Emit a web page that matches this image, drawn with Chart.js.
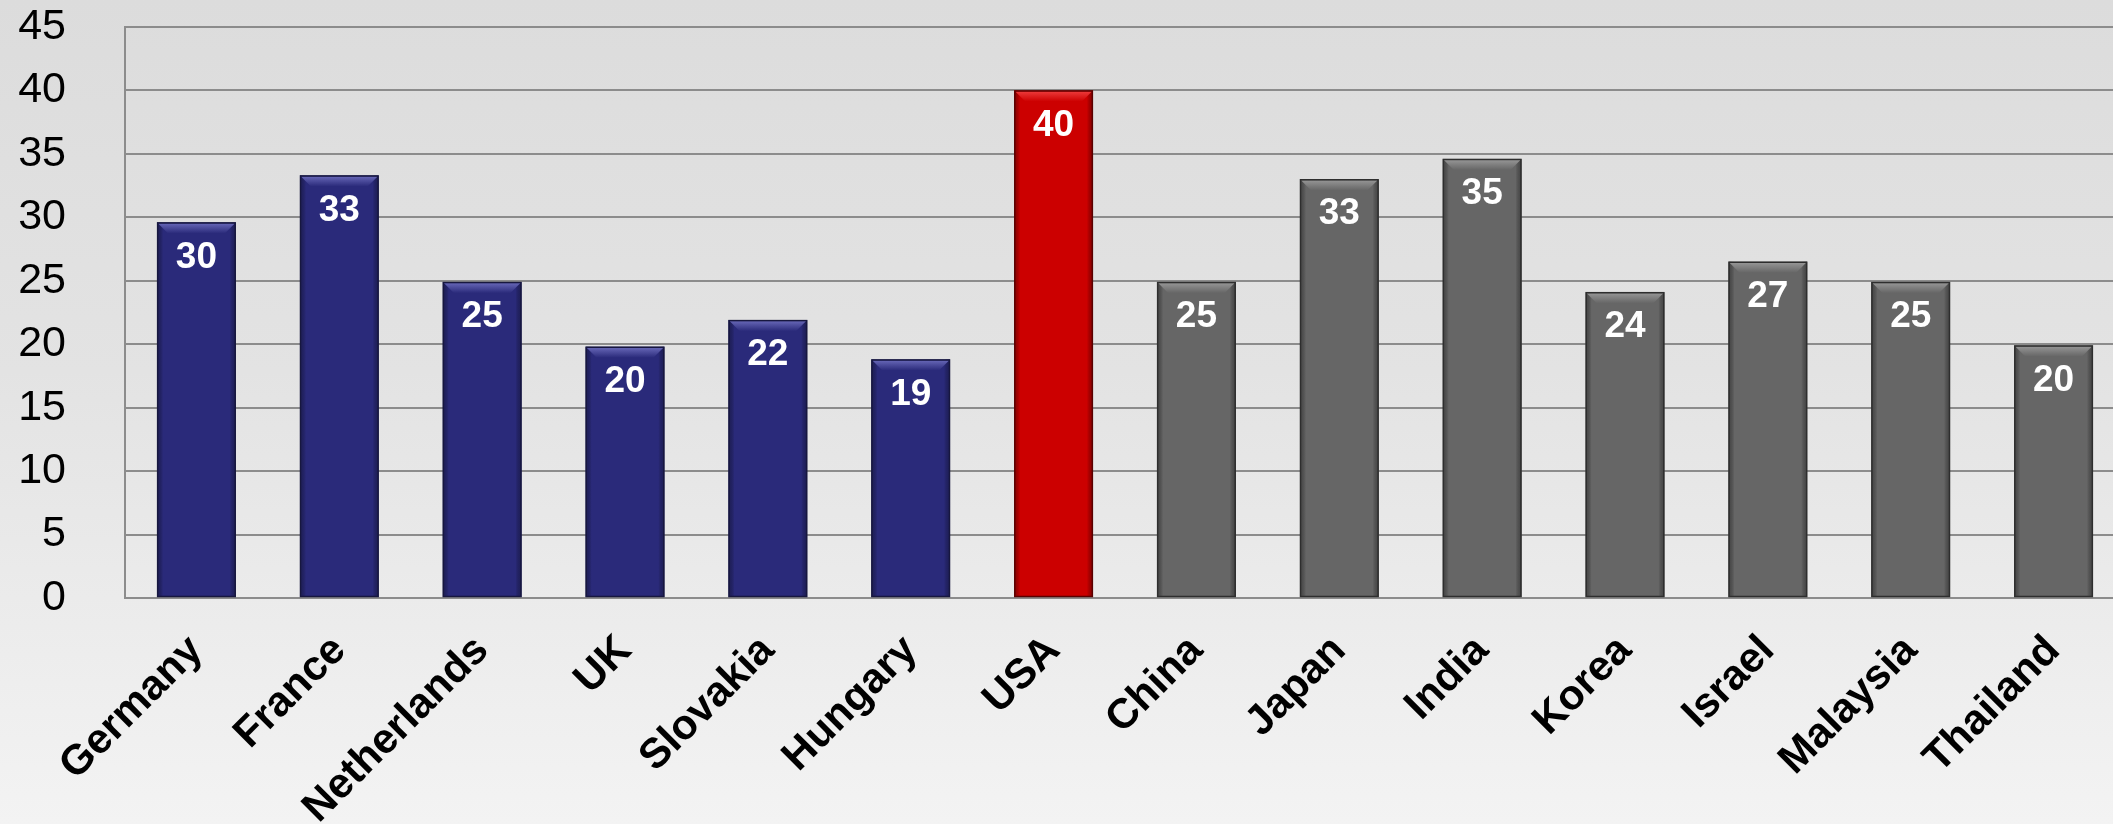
<!DOCTYPE html>
<html>
<head>
<meta charset="utf-8">
<script src="https://cdn.jsdelivr.net/npm/chart.js@4.4.1/dist/chart.umd.min.js"></script>
<style>
html, body { margin: 0; padding: 0; overflow: hidden; width: 2113px; height: 824px;
  background: linear-gradient(to bottom, #dcdcdc 0%, #e3e3e3 45%, #f3f3f3 100%); }
#wrap { position: absolute; left: 0; top: 0; width: 2125px; height: 824px; }
canvas { display: block; }
</style>
</head>
<body>
<div id="wrap"><canvas id="chart" width="2125" height="824"></canvas></div>
<script>
// ---- data ----
const categories = ['Germany', 'France', 'Netherlands', 'UK', 'Slovakia', 'Hungary', 'USA',
                    'China', 'Japan', 'India', 'Korea', 'Israel', 'Malaysia', 'Thailand'];
const values = [29.6, 33.3, 24.9, 19.8, 21.9, 18.8, 40.0, 24.9, 33.0, 34.6, 24.1, 26.5, 24.9, 19.9];
const europeCount = 6;   // first six categories (navy)
const usaIndex = 6;      // highlighted category (red)
const yMin = 0, yMax = 45, yStep = 5;

// ---- styles ----
const FONT = '"Liberation Sans", Arial, sans-serif';
const palette = {
  navy: { main: '#2a2a7a', light: '#6c6cbc', dark: '#17173f' },
  red:  { main: '#cc0000', light: '#f04040', dark: '#5a0000' },
  gray: { main: '#666666', light: '#9a9a9a', dark: '#2e2e2e' }
};
function groupOf(i) { return i < europeCount ? palette.navy : (i === usaIndex ? palette.red : palette.gray); }

// bevel + value labels drawn on the library's bar elements
const barDecor = {
  id: 'barDecor',
  afterDatasetsDraw(chart) {
    const ctx = chart.ctx;
    const meta = chart.getDatasetMeta(0);
    meta.data.forEach((bar, i) => {
      const p = bar.getProps(['x', 'y', 'base', 'width'], true);
      const c = groupOf(i);
      const x0 = p.x - p.width / 2, x1 = p.x + p.width / 2, top = p.y, bot = p.base;
      const b = 11;
      ctx.save();
      // side shading
      let g = ctx.createLinearGradient(x0, 0, x0 + 6, 0);
      g.addColorStop(0, c.dark); g.addColorStop(1, 'rgba(0,0,0,0)');
      ctx.fillStyle = g; ctx.globalAlpha = 0.55;
      ctx.fillRect(x0, top, 6, bot - top);
      g = ctx.createLinearGradient(x1 - 6, 0, x1, 0);
      g.addColorStop(0, 'rgba(0,0,0,0)'); g.addColorStop(1, c.dark);
      ctx.fillStyle = g;
      ctx.fillRect(x1 - 6, top, 6, bot - top);
      ctx.globalAlpha = 1;
      // top bevel
      g = ctx.createLinearGradient(0, top, 0, top + b);
      g.addColorStop(0, c.light); g.addColorStop(1, c.main);
      ctx.fillStyle = g;
      ctx.beginPath();
      ctx.moveTo(x0 + 1, top + 1); ctx.lineTo(x1 - 1, top + 1);
      ctx.lineTo(x1 - b, top + b); ctx.lineTo(x0 + b, top + b); ctx.closePath();
      ctx.fill();
      // outline
      ctx.strokeStyle = c.dark; ctx.lineWidth = 1.5;
      ctx.strokeRect(x0 + 0.5, top + 0.5, p.width - 1, bot - top - 1);
      // value label
      ctx.fillStyle = '#ffffff';
      ctx.font = 'bold 37px ' + FONT;
      ctx.textAlign = 'center';
      ctx.textBaseline = 'middle';
      ctx.fillText(String(Math.round(values[i])), p.x, top + 35);
      ctx.restore();
    });
  }
};

new Chart(document.getElementById('chart'), {
  type: 'bar',
  data: {
    labels: categories,
    datasets: [{
      data: values,
      backgroundColor: ctx => groupOf(ctx.dataIndex).main,
      borderWidth: 0,
      barPercentage: 0.55,
      categoryPercentage: 1.0
    }]
  },
  options: {
    responsive: false,
    animation: false,
    devicePixelRatio: 1,
    layout: { padding: { top: 27, left: 0, right: 0, bottom: 0 } },
    plugins: { legend: { display: false }, tooltip: { enabled: false } },
    scales: {
      x: {
        grid: { display: false, drawTicks: false },
        border: { display: true, color: '#8c8c8c', width: 2 },
        ticks: {
          autoSkip: false, minRotation: 45, maxRotation: 45, padding: 28,
          color: '#000000', font: { family: FONT, size: 42, weight: 'bold' }
        },
        afterFit(scale) { scale.height = 226; scale.paddingLeft = 0; scale.paddingRight = 0; }
      },
      y: {
        min: yMin, max: yMax,
        grid: { color: '#8c8c8c', lineWidth: 2, drawTicks: false },
        border: { display: true, color: '#8c8c8c', width: 2 },
        ticks: {
          stepSize: yStep, padding: 59, color: '#000000',
          font: { family: FONT, size: 43 }
        },
        afterFit(scale) { scale.width = 125; scale.paddingTop = 20; scale.paddingBottom = 0; }
      }
    }
  },
  plugins: [barDecor]
});
</script>
</body>
</html>
